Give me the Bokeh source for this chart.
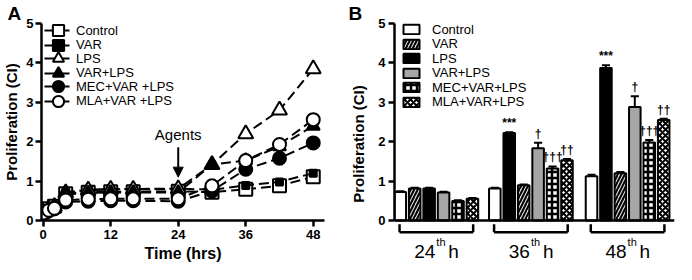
from bokeh.plotting import figure
from bokeh.layouts import row, column
from bokeh.models import (FixedTicker, Legend, LegendItem, Label, Arrow, NormalHead,
                          Span, Range1d, ColumnDataSource)
from bokeh.core.properties import value
from bokeh.embed import file_html
from bokeh.resources import INLINE

FONT = "Liberation Sans"

# ---------------- Panel A data ----------------
hours = [0, 1, 2, 4, 8, 12, 16, 24, 30, 36, 42, 48]
a_labels = ["Control", "VAR", "LPS", "VAR+LPS", "MEC+VAR +LPS", "MLA+VAR +LPS"]
a_control = [0.22, 0.30, 0.36, 0.68, 0.72, 0.73, 0.73, 0.74, 0.72, 0.79, 0.88, 1.11]
a_var = [0.20, 0.28, 0.34, 0.72, 0.78, 0.80, 0.80, 0.81, 0.78, 0.89, 0.98, 1.20]
a_lps = [0.21, 0.29, 0.35, 0.70, 0.77, 0.79, 0.79, 0.80, 1.42, 2.20, 2.80, 3.85]
a_varlps = [0.20, 0.27, 0.33, 0.66, 0.70, 0.71, 0.71, 0.71, 1.42, 1.52, 1.88, 2.40]
a_mec = [0.18, 0.25, 0.30, 0.47, 0.49, 0.50, 0.50, 0.49, 0.75, 1.30, 1.58, 1.97]
a_mla = [0.19, 0.26, 0.31, 0.52, 0.54, 0.55, 0.55, 0.55, 0.88, 1.52, 1.93, 2.56]
a_xticks = [0, 12, 24, 36, 48]
agents_hour = 24

# ---------------- Panel B data ----------------
b_groups = ["24", "36", "48"]
b_labels = ["Control", "VAR", "LPS", "VAR+LPS", "MEC+VAR+LPS", "MLA+VAR+LPS"]
b_control = [0.72, 0.81, 1.12]
b_var = [0.81, 0.89, 1.20]
b_lps = [0.81, 2.22, 3.87]
b_varlps = [0.71, 1.83, 2.88]
b_mec = [0.49, 1.32, 1.98]
b_mla = [0.55, 1.53, 2.55]
e_control = [0.02, 0.02, 0.04]
e_var = [0.02, 0.02, 0.03]
e_lps = [0.02, 0.02, 0.07]
e_varlps = [0.02, 0.14, 0.27]
e_mec = [0.02, 0.05, 0.06]
e_mla = [0.02, 0.03, 0.03]
sig_lps = ["", "***", "***"]
sig_varlps = ["", "\u2020", "\u2020"]
sig_mec = ["", "\u2020\u2020\u2020", "\u2020\u2020\u2020"]
sig_mla = ["", "\u2020\u2020", "\u2020\u2020"]
slot_orders = [
    ["Control", "VAR", "LPS", "VAR+LPS", "MEC+VAR+LPS", "MLA+VAR+LPS"],
    ["Control", "LPS", "VAR", "VAR+LPS", "MEC+VAR+LPS", "MLA+VAR+LPS"],
    ["Control", "LPS", "VAR", "VAR+LPS", "MEC+VAR+LPS", "MLA+VAR+LPS"],
]


def style_axis(ax, label_size="15px"):
    ax.axis_line_width = 2.5
    ax.axis_line_color = "black"
    ax.major_tick_line_width = 2.5
    ax.major_tick_line_color = "black"
    ax.major_tick_out = 6
    ax.major_tick_in = 0
    ax.minor_tick_line_color = None
    ax.major_label_text_font = FONT
    ax.major_label_text_font_style = "bold"
    ax.major_label_text_font_size = "13px"
    ax.major_label_text_color = "black"
    ax.axis_label_text_font = FONT
    ax.axis_label_text_font_style = "bold"
    ax.axis_label_text_font_size = label_size
    ax.axis_label_text_color = "black"


def style_title(p, txt, off):
    p.title.text = txt
    p.title.align = "left"
    p.title.offset = off
    p.title.text_font = FONT
    p.title.text_font_size = "19px"
    p.title.text_font_style = "bold"
    p.title.text_color = "black"
    p.title.standoff = 0


# ================= Panel A =================
pa = figure(width=338, height=264, x_range=Range1d(-0.3, 50), y_range=Range1d(0, 5),
            output_backend="svg", toolbar_location=None,
            min_border_left=30, min_border_right=14, min_border_top=20, min_border_bottom=44)
pa.outline_line_color = None
pa.xgrid.visible = False
pa.ygrid.visible = False
style_axis(pa.xaxis[0], "16px")
style_axis(pa.yaxis[0], "15px")
pa.xaxis.ticker = FixedTicker(ticks=a_xticks)
pa.yaxis.ticker = FixedTicker(ticks=[0, 1, 2, 3, 4, 5])
pa.xaxis.axis_label = "Time (hrs)"
pa.yaxis.axis_label = "Proliferation (CI)"
pa.xaxis.major_label_standoff = 3
pa.xaxis.axis_label_standoff = 3
pa.yaxis.major_label_standoff = 2
pa.yaxis.axis_label_standoff = 3
style_title(pa, "A", -34)

a_styles = [
    (a_control, "square", 13, "white"),
    (a_var, "square", 7, "black"),
    (a_lps, "triangle", 15, "white"),
    (a_varlps, "triangle", 13, "black"),
    (a_mec, "circle", 13, "black"),
    (a_mla, "circle", 13, "white"),
]
a_items = []
for lab, (vals, mk, sz, fc) in zip(a_labels, a_styles):
    src = ColumnDataSource(dict(x=hours, y=vals))
    lr = pa.line("x", "y", source=src, line_color="black", line_width=2, line_dash="10 5")
    sr = pa.scatter("x", "y", source=src, marker=mk, size=sz, fill_color=fc,
                    line_color="black", line_width=2)
    a_items.append(LegendItem(label=lab, renderers=[lr, sr]))

leg_kw_a = dict(glyph_width=28, glyph_height=28, spacing=0, label_height=28, label_standoff=4,
                padding=0, margin=0, border_line_color=None, background_fill_alpha=0,
                label_text_font=FONT, label_text_font_size="13px", label_text_color="black")
pa.add_layout(Legend(items=a_items[0::2], location=(3, 120.0), **leg_kw_a))
pa.add_layout(Legend(items=a_items[1::2], location=(3, 105.5), **leg_kw_a))

pa.add_layout(Arrow(end=NormalHead(size=10, fill_color="black", line_color="black"),
                    x_start=agents_hour, y_start=1.86, x_end=agents_hour, y_end=1.1,
                    line_width=2, line_color="black"))
pa.add_layout(Label(x=agents_hour, y=1.97, text="Agents", text_align="center",
                    text_baseline="bottom", text_font=FONT, text_font_size="15px",
                    text_color="black"))

# ================= Panel B =================
pb = figure(width=338, height=264, x_range=Range1d(0, 19.4), y_range=Range1d(-1.12, 5),
            output_backend="svg", toolbar_location=None, x_axis_location=None,
            min_border_left=56, min_border_right=2, min_border_top=20, min_border_bottom=0)
pb.outline_line_color = None
pb.xgrid.visible = False
pb.ygrid.visible = False
style_axis(pb.yaxis[0], "15px")
pb.yaxis.ticker = FixedTicker(ticks=[0, 1, 2, 3, 4, 5])
pb.yaxis.bounds = (0, 5)
pb.yaxis.axis_label = "Proliferation (CI)"
pb.yaxis.major_label_standoff = 3
pb.yaxis.axis_label_standoff = 8
style_title(pb, "B", -46)

group_centers = [2.9, 9.45, 16.15]
bar_w = 0.8
b_vals = dict(zip(b_labels, [b_control, b_var, b_lps, b_varlps, b_mec, b_mla]))
b_errs = dict(zip(b_labels, [e_control, e_var, e_lps, e_varlps, e_mec, e_mla]))
b_sigs = {"LPS": sig_lps, "VAR+LPS": sig_varlps, "MEC+VAR+LPS": sig_mec, "MLA+VAR+LPS": sig_mla}


def xpos(lab):
    return [c + (order.index(lab) - 2.5) for c, order in zip(group_centers, slot_orders)]


b_styles = {
    "Control": dict(fill_color="white"),
    "VAR": dict(fill_color="#d8d8d8", hatch_pattern="right_diagonal_line", hatch_color="black",
                hatch_weight=2, hatch_scale=7),
    "LPS": dict(fill_color="black"),
    "VAR+LPS": dict(fill_color="#a6a6a6"),
    "MEC+VAR+LPS": dict(fill_color="white", hatch_pattern="cross", hatch_color="black",
                        hatch_weight=2.5, hatch_scale=6),
    "MLA+VAR+LPS": dict(fill_color="white", hatch_pattern="diagonal_cross", hatch_color="black",
                        hatch_weight=2, hatch_scale=6),
}

b_items = []
for lab in b_labels:
    xs = xpos(lab)
    vals = b_vals[lab]
    errs = b_errs[lab]
    tops = [v + e for v, e in zip(vals, errs)]
    pb.segment(x0=xs, y0=vals, x1=xs, y1=tops, line_color="black", line_width=2)
    pb.segment(x0=[x - 0.28 for x in xs], y0=tops, x1=[x + 0.28 for x in xs], y1=tops,
               line_color="black", line_width=2)
    r = pb.vbar(x=xs, top=vals, bottom=0, width=bar_w, line_color="black", line_width=2,
                **b_styles[lab])
    b_items.append(LegendItem(label=lab, renderers=[r]))
    if lab in b_sigs:
        pb.text(x=xs, y=tops, text=b_sigs[lab], text_align="center", text_baseline="bottom",
                y_offset=-2, text_font=value(FONT), text_font_size="12px",
                text_font_style="bold", text_color="black")

pb.add_layout(Span(location=0, dimension="width", line_color="black", line_width=2.5))

hw = 2.55
lefts = [c - hw for c in group_centers]
rights = [c + hw for c in group_centers]
pb.segment(x0=lefts, y0=[-0.3] * 3, x1=rights, y1=[-0.3] * 3, line_color="black", line_width=2.5)
pb.segment(x0=lefts + rights, y0=[-0.1] * 6, x1=lefts + rights, y1=[-0.3] * 6,
           line_color="black", line_width=2.5)
lab_y = [-0.78] * 3
pb.text(x=group_centers, y=lab_y, text=b_groups, text_align="right",
        text_baseline="alphabetic", x_offset=-1, text_font=value(FONT),
        text_font_size="19px", text_color="black")
pb.text(x=group_centers, y=lab_y, text=["th"] * 3, text_align="left",
        text_baseline="alphabetic", x_offset=0, y_offset=-9, text_font=value(FONT),
        text_font_size="11px", text_color="black")
pb.text(x=group_centers, y=lab_y, text=["h"] * 3, text_align="left",
        text_baseline="alphabetic", x_offset=12, text_font=value(FONT),
        text_font_size="19px", text_color="black")

leg_kw_b = dict(glyph_width=20, glyph_height=12, spacing=12, label_height=17, label_standoff=11,
                padding=0, margin=0, border_line_color=None, background_fill_alpha=0,
                label_text_font=FONT, label_text_font_size="13px", label_text_color="black")
pb.add_layout(Legend(items=b_items[0::2], location=(7, 168.4), **leg_kw_b))
pb.add_layout(Legend(items=b_items[1::2], location=(7, 154.0), **leg_kw_b))

layout = row(pa, column(pb))
open("out.html", "w").write(file_html(layout, INLINE))
